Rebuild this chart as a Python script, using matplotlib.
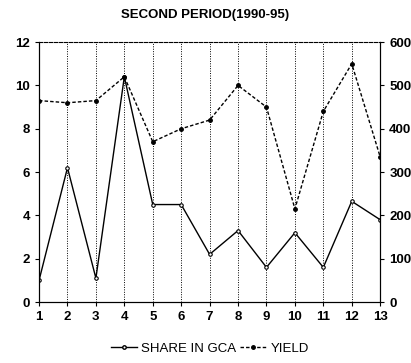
import matplotlib.pyplot as plt
from matplotlib.lines import Line2D

plt.rcParams['font.family'] = ['Liberation Sans', 'DejaVu Sans']

periods = list(range(1, 14))
share_in_gca = [1.0, 6.2, 1.1, 10.4, 4.5, 4.5, 2.2, 3.3, 1.6, 3.2, 1.6, 4.65, 3.8]
yield_vals = [465, 460, 465, 520, 370, 400, 420, 500, 450, 215, 440, 550, 335]

fig = plt.figure(figsize=(4.11, 3.63), dpi=100)
ax = fig.add_axes([0.095, 0.168, 0.83, 0.716])
ax2 = ax.twinx()

for x in periods:
    ax.axvline(x, color='black', linestyle=(0, (1, 1.5)), linewidth=0.7, zorder=0)

ax.plot(periods, share_in_gca, color='black', linewidth=1.0, marker='o',
        markersize=2.5, markerfacecolor='white', markeredgewidth=0.8)
ax2.plot(periods, yield_vals, color='black', linewidth=1.0, linestyle=(0, (2.5, 1.5)),
         marker='o', markersize=2.5, markerfacecolor='black')

ax.set_xlim(1, 13)
ax.set_ylim(0, 12)
ax2.set_ylim(0, 600)
ax.set_xticks(periods)
ax.set_yticks([0, 2, 4, 6, 8, 10, 12])
ax2.set_yticks([0, 100, 200, 300, 400, 500, 600])

ax.spines['top'].set_linestyle((0, (3, 1.5)))
ax2.spines['top'].set_visible(False)
for a in (ax, ax2):
    a.tick_params(labelsize=9.5, length=3, width=0.8)
    for lab in a.get_xticklabels() + a.get_yticklabels():
        lab.set_fontweight('bold')

fig.suptitle('SECOND PERIOD(1990-95)', x=0.5, y=0.975, fontsize=9.5, fontweight='bold')

handles = [
    Line2D([], [], color='black', linewidth=1.0, marker='o', markersize=2.5,
           markerfacecolor='white'),
    Line2D([], [], color='black', linewidth=1.0, linestyle=(0, (2.5, 1.5)),
           marker='o', markersize=2.5),
]
fig.legend(handles, ['SHARE IN GCA', 'YIELD'], loc='center', bbox_to_anchor=(0.51, 0.04),
           ncol=2, frameon=False, fontsize=9.5, handlelength=2.0, handletextpad=0.3,
           columnspacing=0.3)

fig.savefig('out.png', dpi=100)
